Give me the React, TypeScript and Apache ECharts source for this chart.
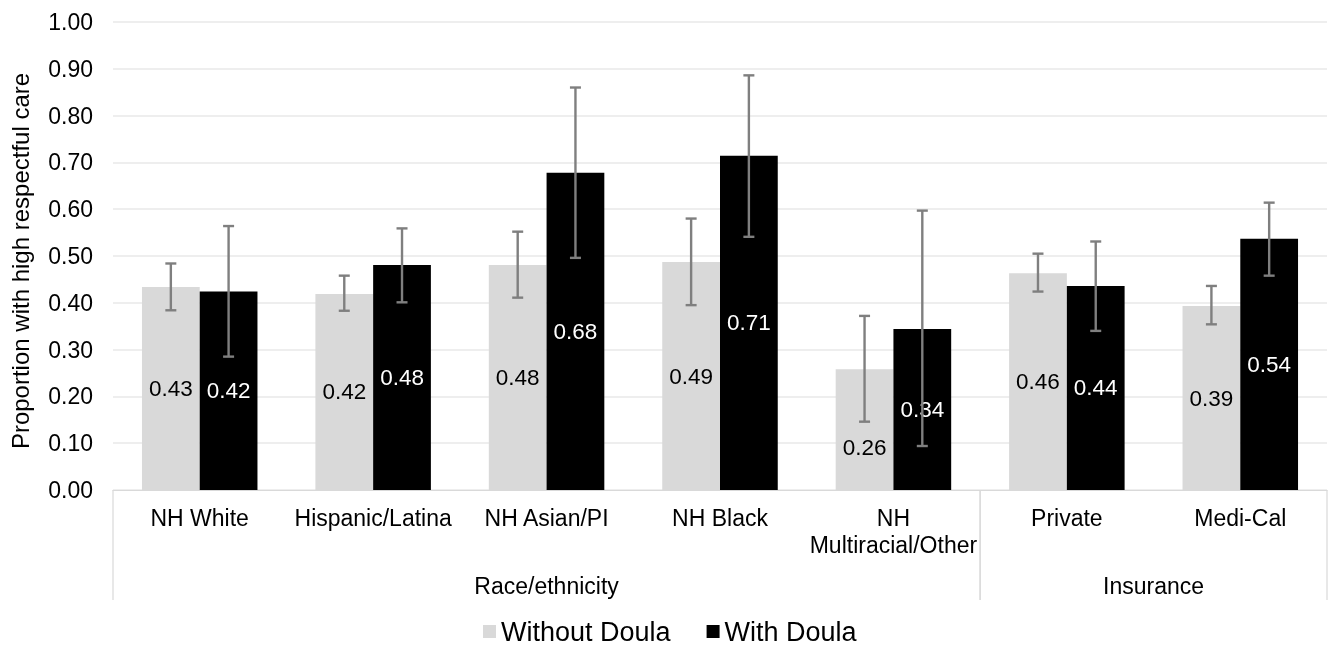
import React, { useEffect, useRef } from "react";
import * as echarts from "echarts";

const categories = [
  "NH White",
  "Hispanic/Latina",
  "NH Asian/PI",
  "NH Black",
  "NH\nMultiracial/Other",
  "Private",
  "Medi-Cal",
];
const groupNames = ["Race/ethnicity", "Insurance"];
const groupStart = [0, 5];
const groupEnd = [4, 6];

const withoutValues = [0.434, 0.419, 0.481, 0.487, 0.258, 0.463, 0.393];
const withoutLow = [0.384, 0.383, 0.411, 0.395, 0.146, 0.424, 0.354];
const withoutHigh = [0.484, 0.458, 0.552, 0.58, 0.372, 0.505, 0.436];

const withValues = [0.424, 0.481, 0.678, 0.714, 0.344, 0.436, 0.537];
const withLow = [0.285, 0.401, 0.496, 0.541, 0.094, 0.34, 0.458];
const withHigh = [0.564, 0.559, 0.86, 0.886, 0.597, 0.531, 0.614];

const FONT = '"Liberation Sans", Arial, Helvetica, sans-serif';
const GAP = 0.334;

function errorSeries(name: string, low: number[], high: number[], sign: number) {
  return {
    type: "custom",
    name: name + " CI",
    z: 5,
    silent: true,
    encode: { x: 0, y: [1, 2] },
    data: low.map((l, i) => [i, l, high[i]]),
    renderItem: (params: any, api: any) => {
      const idx = api.value(0);
      const lo = api.coord([idx, api.value(1)]);
      const hi = api.coord([idx, api.value(2)]);
      const band = api.size([1, 0])[0];
      const bw = (band * (1 - GAP)) / 2;
      const x = lo[0] + (sign * bw) / 2;
      const cap = 5.5;
      const style = { stroke: "#7f7f7f", lineWidth: 2.4 };
      return {
        type: "group",
        children: [
          { type: "line", shape: { x1: x, y1: lo[1], x2: x, y2: hi[1] }, style },
          { type: "line", shape: { x1: x - cap, y1: lo[1], x2: x + cap, y2: lo[1] }, style },
          { type: "line", shape: { x1: x - cap, y1: hi[1], x2: x + cap, y2: hi[1] }, style },
        ],
      };
    },
  };
}

export default function App() {
  const ref = useRef<HTMLDivElement>(null);

  useEffect(() => {
    if (!ref.current) return;
    const chart = echarts.init(ref.current, undefined, { renderer: "svg" });

    const withoutData = withoutValues.map((v, i) =>
      i === 4 ? { value: v, label: { offset: [0, 18] } } : v
    );

    chart.setOption({
      animation: false,
      textStyle: { fontFamily: FONT },
      grid: { left: 113, right: 4, top: 22, bottom: 156, containLabel: false },
      legend: {
        data: ["Without Doula", "With Doula"],
        left: 483,
        top: 618,
        padding: 0,
        itemWidth: 13,
        itemHeight: 13,
        itemGap: 36,
        icon: "rect",
        textStyle: { fontSize: 27, color: "#000", fontFamily: FONT },
      },
      xAxis: {
        type: "category",
        data: categories,
        axisLine: { show: true, lineStyle: { color: "#d9d9d9", width: 1 } },
        axisTick: { show: false },
        axisLabel: {
          interval: 0,
          margin: 14,
          fontSize: 23,
          lineHeight: 27,
          color: "#000",
          fontFamily: FONT,
        },
        splitLine: { show: false },
      },
      yAxis: {
        type: "value",
        min: 0,
        max: 1,
        interval: 0.1,
        name: "Proportion with high respectful care",
        nameLocation: "middle",
        nameGap: 81,
        nameTextStyle: {
          fontSize: 24,
          color: "#000",
          fontFamily: FONT,
          padding: [0, 10, 0, 0],
        },
        axisLine: { show: false },
        axisTick: { show: false },
        axisLabel: {
          margin: 20,
          fontSize: 23,
          color: "#000",
          fontFamily: FONT,
          formatter: (v: number) => v.toFixed(2),
        },
        splitLine: { lineStyle: { color: "#e9e9e9", width: 1.5 } },
      },
      series: [
        {
          type: "bar",
          name: "Without Doula",
          data: withoutData,
          barGap: "0%",
          barCategoryGap: GAP * 100 + "%",
          itemStyle: { color: "#d9d9d9" },
          label: {
            show: true,
            position: "inside",
            fontSize: 22.5,
            color: "#000",
            fontFamily: FONT,
            formatter: (p: any) => Number(p.value).toFixed(2),
          },
        },
        {
          type: "bar",
          name: "With Doula",
          data: withValues,
          barGap: "0%",
          barCategoryGap: GAP * 100 + "%",
          itemStyle: { color: "#000000" },
          label: {
            show: true,
            position: "inside",
            fontSize: 22.5,
            color: "#fff",
            fontFamily: FONT,
            formatter: (p: any) => Number(p.value).toFixed(2),
          },
        },
        errorSeries("Without Doula", withoutLow, withoutHigh, -1),
        errorSeries("With Doula", withLow, withHigh, 1),
        {
          type: "custom",
          name: "groups",
          silent: true,
          clip: false,
          encode: { x: [0, 1], y: 2 },
          data: groupNames.map((g, i) => [groupStart[i], groupEnd[i], 0, g]),
          renderItem: (params: any, api: any) => {
            const s = api.coord([api.value(0), 0]);
            const e = api.coord([api.value(1), 0]);
            const band = api.size([1, 0])[0];
            const x1 = s[0] - band / 2;
            const x2 = e[0] + band / 2;
            const y0 = s[1];
            const name = groupNames[params.dataIndex];
            const ls = { stroke: "#d9d9d9", lineWidth: 1.2 };
            return {
              type: "group",
              children: [
                { type: "line", shape: { x1: x1, y1: y0, x2: x1, y2: y0 + 110 }, style: ls },
                { type: "line", shape: { x1: x2, y1: y0, x2: x2, y2: y0 + 110 }, style: ls },
                {
                  type: "text",
                  style: {
                    x: (x1 + x2) / 2,
                    y: y0 + 95.5,
                    text: name,
                    fill: "#000",
                    font: "23px " + FONT,
                    align: "center",
                    verticalAlign: "middle",
                  },
                },
              ],
            };
          },
        },
      ],
    });

    return () => chart.dispose();
  }, []);

  return (
    <div
      ref={ref}
      style={{ position: "fixed", left: 0, top: 0, width: 1331, height: 646 }}
    />
  );
}
